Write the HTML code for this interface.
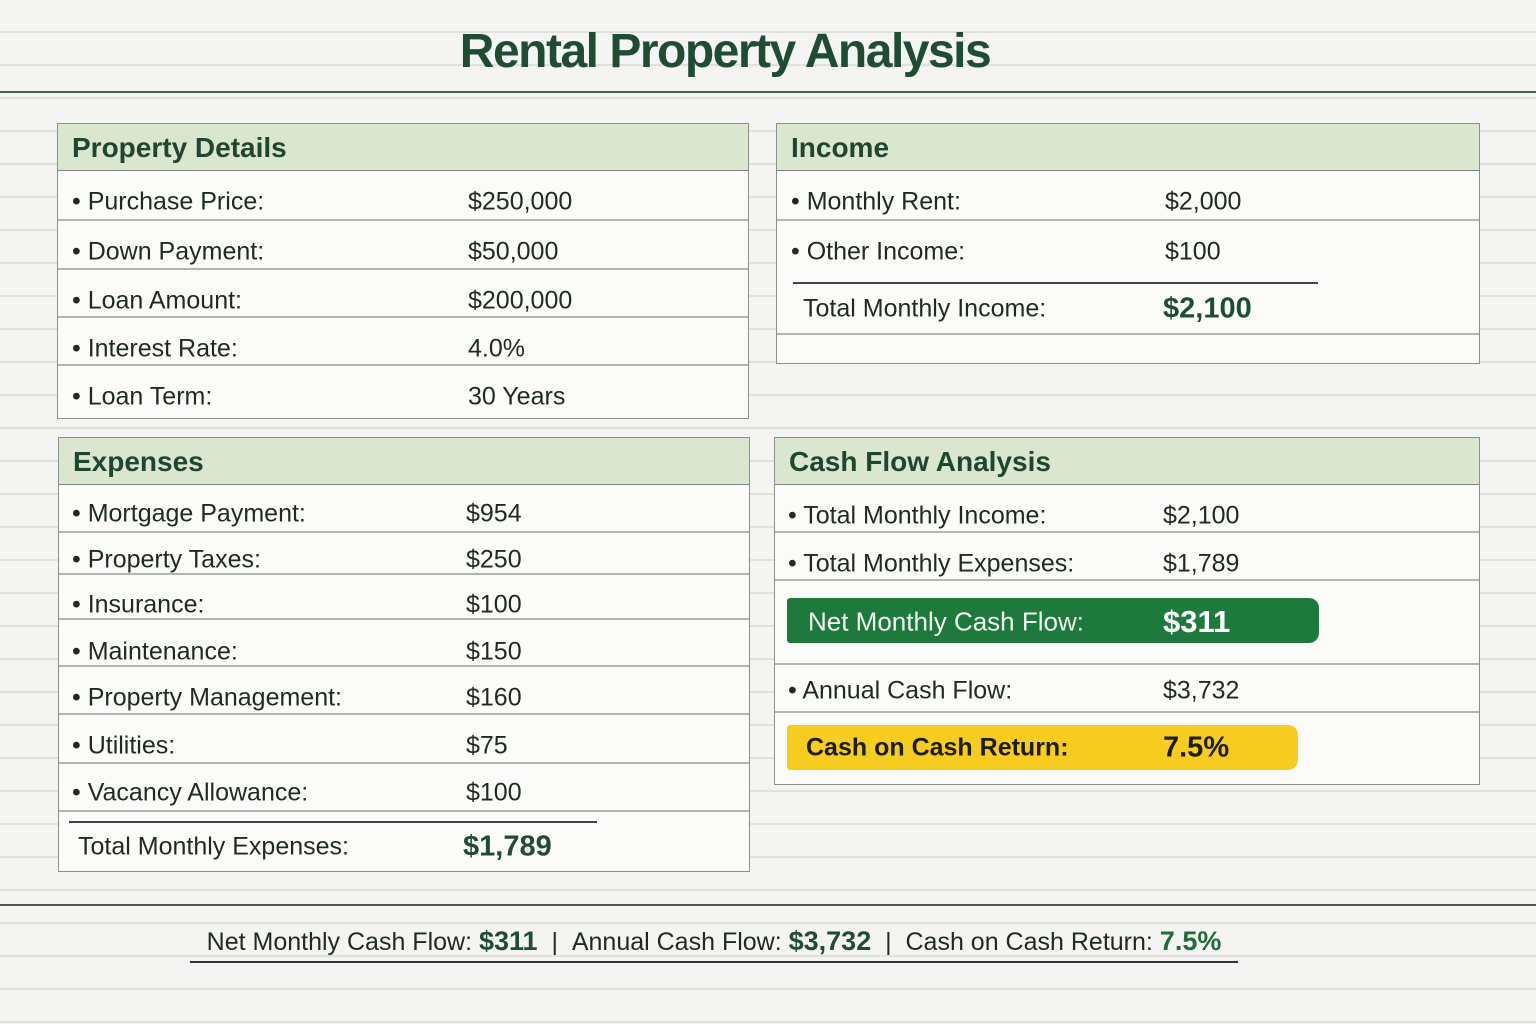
<!DOCTYPE html>
<html><head><meta charset="utf-8"><style>
*{margin:0;padding:0;box-sizing:border-box}
body{width:1536px;height:1024px;position:relative;overflow:hidden;font-family:"Liberation Sans",sans-serif;color:#1e2a22;
background:#f4f4f2 repeating-linear-gradient(to bottom,transparent 0,transparent 31px,#e0e0de 31px,#e0e0de 33px);}
.a{position:absolute;white-space:nowrap}
.panel{position:absolute;background:#fbfbfa;border:1.5px solid #8d8f8c}
.hd{position:absolute;left:0;right:0;top:0;height:47px;background:#dbe6cf;border-bottom:1.5px solid #7f837f;font-weight:bold;font-size:28px;color:#1f4630;padding:8px 0 0 14px}
.sep{position:absolute;height:1.5px;background:#b3b5b2}
.t{position:absolute;font-size:25px;white-space:nowrap;transform:translateY(-50%)}
.b{font-weight:bold;color:#1f4d33}
</style></head><body>
<div class="a" style="left:0;right:0;top:24px;text-align:center;font-size:48px;font-weight:bold;color:#1f4d33;letter-spacing:-1.5px;transform:translateX(-43px)">Rental Property Analysis</div>
<div class="a" style="left:0;width:1536px;top:91px;height:2px;background:#3c6a52"></div>

<div class="panel" style="left:57px;top:123px;width:692px;height:296px">
<div class="hd">Property Details</div>
<div class="sep" style="left:0;right:0;top:95px"></div>
<div class="sep" style="left:0;right:0;top:144px"></div>
<div class="sep" style="left:0;right:0;top:192px"></div>
<div class="sep" style="left:0;right:0;top:240px"></div>
<div class="t" style="left:14px;top:78px">• Purchase Price:</div><div class="t" style="left:410px;top:78px">$250,000</div>
<div class="t" style="left:14px;top:128px">• Down Payment:</div><div class="t" style="left:410px;top:128px">$50,000</div>
<div class="t" style="left:14px;top:177px">• Loan Amount:</div><div class="t" style="left:410px;top:177px">$200,000</div>
<div class="t" style="left:14px;top:225px">• Interest Rate:</div><div class="t" style="left:410px;top:225px">4.0%</div>
<div class="t" style="left:14px;top:273px">• Loan Term:</div><div class="t" style="left:410px;top:273px">30 Years</div>
</div>

<div class="panel" style="left:776px;top:123px;width:704px;height:241px">
<div class="hd">Income</div>
<div class="sep" style="left:0;right:0;top:95px"></div>
<div class="sep" style="left:16px;width:525px;top:158px;background:#444"></div>
<div class="sep" style="left:0;right:0;top:209px"></div>
<div class="t" style="left:14px;top:78px">• Monthly Rent:</div><div class="t" style="left:388px;top:78px">$2,000</div>
<div class="t" style="left:14px;top:128px">• Other Income:</div><div class="t" style="left:388px;top:128px">$100</div>
<div class="t" style="left:26px;top:185px">Total Monthly Income:</div><div class="t b" style="left:386px;top:185px;font-size:29px">$2,100</div>
</div>

<div class="panel" style="left:58px;top:437px;width:692px;height:435px">
<div class="hd">Expenses</div>
<div class="sep" style="left:0;right:0;top:93px"></div>
<div class="sep" style="left:0;right:0;top:135px"></div>
<div class="sep" style="left:0;right:0;top:180px"></div>
<div class="sep" style="left:0;right:0;top:227px"></div>
<div class="sep" style="left:0;right:0;top:275px"></div>
<div class="sep" style="left:0;right:0;top:324px"></div>
<div class="sep" style="left:0;right:0;top:372px"></div>
<div class="sep" style="left:10px;width:528px;top:383px;background:#444"></div>
<div class="t" style="left:13px;top:76px">• Mortgage Payment:</div><div class="t" style="left:407px;top:76px">$954</div>
<div class="t" style="left:13px;top:122px">• Property Taxes:</div><div class="t" style="left:407px;top:122px">$250</div>
<div class="t" style="left:13px;top:167px">• Insurance:</div><div class="t" style="left:407px;top:167px">$100</div>
<div class="t" style="left:13px;top:214px">• Maintenance:</div><div class="t" style="left:407px;top:214px">$150</div>
<div class="t" style="left:13px;top:260px">• Property Management:</div><div class="t" style="left:407px;top:260px">$160</div>
<div class="t" style="left:13px;top:308px">• Utilities:</div><div class="t" style="left:407px;top:308px">$75</div>
<div class="t" style="left:13px;top:355px">• Vacancy Allowance:</div><div class="t" style="left:407px;top:355px">$100</div>
<div class="t" style="left:19px;top:409px">Total Monthly Expenses:</div><div class="t b" style="left:404px;top:409px;font-size:29px">$1,789</div>
</div>

<div class="panel" style="left:774px;top:437px;width:706px;height:348px">
<div class="hd">Cash Flow Analysis</div>
<div class="sep" style="left:0;right:0;top:93px"></div>
<div class="sep" style="left:0;right:0;top:141px"></div>
<div class="sep" style="left:0;right:0;top:225px"></div>
<div class="sep" style="left:0;right:0;top:273px"></div>
<div class="t" style="left:13px;top:78px">• Total Monthly Income:</div><div class="t" style="left:388px;top:78px">$2,100</div>
<div class="t" style="left:13px;top:126px">• Total Monthly Expenses:</div><div class="t" style="left:388px;top:126px">$1,789</div>
<div style="position:absolute;left:12px;top:160px;width:532px;height:45px;background:#1e7a3c;border-radius:3px 10px 10px 3px"></div>
<div class="t" style="left:33px;top:184px;color:#f2f7ef;font-size:26px">Net Monthly Cash Flow:</div><div class="t" style="left:388px;top:184px;color:#fff;font-weight:bold;font-size:31px">$311</div>
<div class="t" style="left:13px;top:253px">• Annual Cash Flow:</div><div class="t" style="left:388px;top:253px">$3,732</div>
<div style="position:absolute;left:12px;top:287px;width:511px;height:45px;background:#f6cc20;border-radius:3px 10px 10px 3px"></div>
<div class="t" style="left:31px;top:310px;font-weight:bold;font-size:25px;color:#1d1d14">Cash on Cash Return:</div><div class="t" style="left:388px;top:310px;font-weight:bold;font-size:29px;color:#1d1d14">7.5%</div>
</div>

<div class="a" style="left:0;width:1536px;top:904px;height:2px;background:#4d5a52"></div>
<div class="a" style="left:190px;width:1048px;top:961px;height:1.5px;background:#333"></div>
<div class="a" style="left:190px;width:1048px;top:926px;text-align:center;font-size:25px">Net Monthly Cash Flow: <b style="color:#1f4d33;font-size:27px">$311</b> &nbsp;| &nbsp;Annual Cash Flow: <b style="color:#1f4d33;font-size:27px">$3,732</b> &nbsp;| &nbsp;Cash on Cash Return: <b style="color:#1f6d3c;font-size:27px">7.5%</b></div>
</body></html>
